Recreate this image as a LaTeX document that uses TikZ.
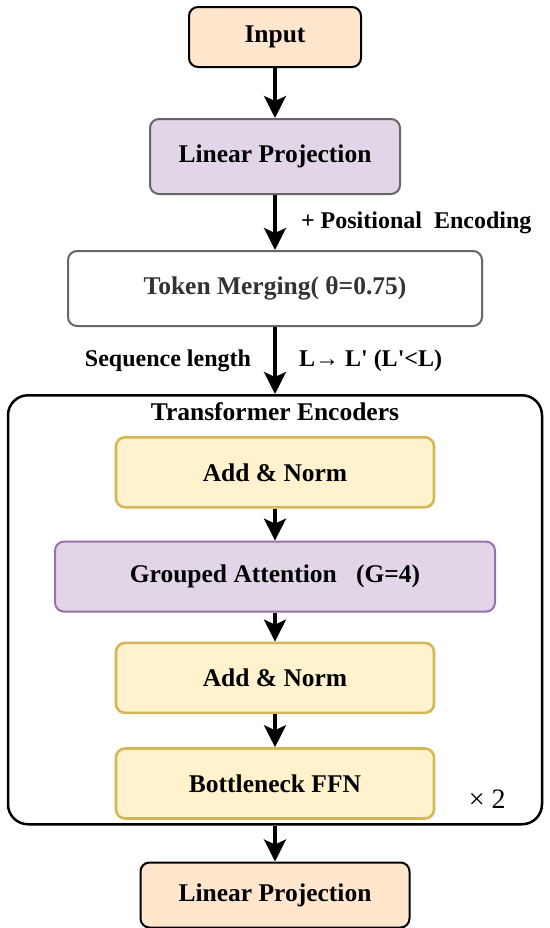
\documentclass[tikz,border=0pt]{standalone}
\usepackage{fontspec}
\setmainfont{Liberation Serif}[Ligatures=TeXOff]
\usetikzlibrary{arrows.meta, positioning}
\definecolor{lightpeach}{HTML}{FFE6CC}
\definecolor{lightlilac}{HTML}{E1D5E7}
\definecolor{lilacline}{HTML}{9673A6}
\definecolor{lightsand}{HTML}{FFF2CC}
\definecolor{sandline}{HTML}{D6B656}
\definecolor{greyline}{HTML}{666666}
\definecolor{greytext}{HTML}{333333}

\begin{document}
\begin{tikzpicture}[
			font=\fontsize{12.75}{15}\selectfont\bfseries,
			box/.style={draw=black, line width=1pt, rounded corners=4.5pt,
				minimum height=35pt, align=center, inner sep=2pt},
			normbox/.style={box, fill=lightsand, draw=sandline, line width=1.3pt, minimum width=159pt},
			flow/.style={-{Stealth[length=11pt, width=11pt, inset=2.5pt]}, line width=1.6pt},
			side/.style={font=\fontsize{12}{14}\selectfont\bfseries}
			]
			\useasboundingbox (0,0) rectangle (275pt,-464pt);

			\node[box, fill=lightpeach, minimum width=86pt, minimum height=30pt] (input) at (137.5pt,-18.5pt) {Input};
			\node[box, fill=lightlilac, draw=greyline, minimum width=125pt, minimum height=37.5pt, below=25pt of input] (proj) {Linear Projection};
			\node[box, draw=greyline, text=greytext, minimum width=207pt, minimum height=37.5pt, below=27.5pt of proj] (merge) {Token Merging( θ=0.75)};

			\node[draw=black, line width=1.25pt, rounded corners=10pt, inner sep=0pt,
				minimum width=267pt, minimum height=214.5pt, below=33.5pt of merge] (enc) {};
			\node (title) at ([yshift=-9pt]enc.north) {Transformer Encoders};
			\node[normbox, below=21pt of enc.north] (norm1) {Add \& Norm};
			\node[box, fill=lightlilac, draw=lilacline, minimum width=220pt, below=16pt of norm1] (attn) {Grouped Attention\hspace{0.75em}(G=4)};
			\node[normbox, below=14.5pt of attn] (norm2) {Add \& Norm};
			\node[normbox, below=16.5pt of norm2] (ffn) {Bottleneck FFN};
			\node[font=\fontsize{14}{16}\selectfont] (rep) at ([xshift=-28pt, yshift=13pt]enc.south east) {× 2};

			\node[box, fill=lightpeach, minimum width=134.5pt, minimum height=32.5pt, below=18pt of enc] (out) {Linear Projection};

			\foreach \a/\b in {input/proj, proj/merge, merge/enc, norm1/attn, attn/norm2, norm2/ffn, enc/out} {
				\draw[flow] (\a) -- (\b);
			}

			\path (proj) -- (merge) node[midway, right=9.5pt, side] (posenc) {+ Positional~ Encoding};
			\path (merge) -- (enc) node[midway, left=8.5pt, side] (seqlen) {Sequence length}
				node[midway, right=8.5pt, side] (ratio) {L→ L' (L'<L)};

		\end{tikzpicture}
\end{document}
